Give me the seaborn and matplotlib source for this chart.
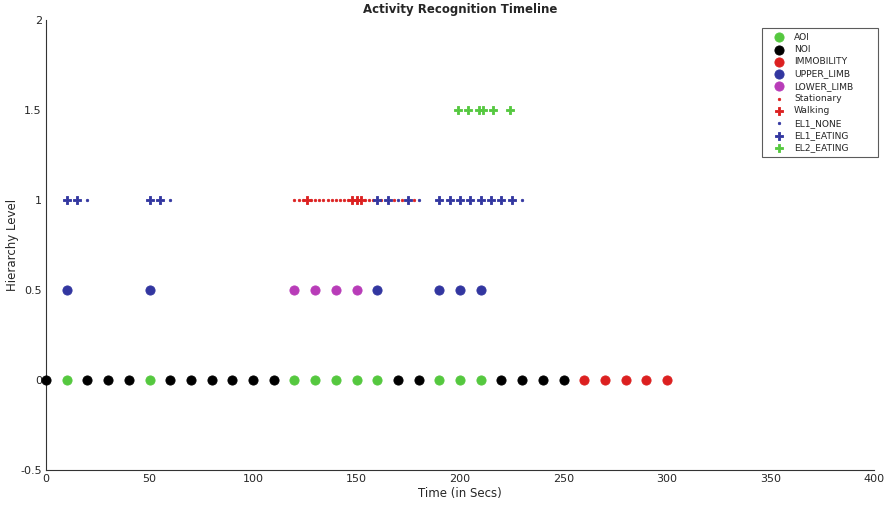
import matplotlib
matplotlib.use("Agg")
import matplotlib.pyplot as plt
import seaborn as sns
import pandas as pd

# === Data read from the reference timeline ===
# level 0: interest (AOI / NOI / IMMOBILITY)
aoi_t = [10, 50, 120, 130, 140, 150, 160, 190, 200, 210]
noi_t = [0, 20, 30, 40, 60, 70, 80, 90, 100, 110, 170, 180, 220, 230, 240, 250]
immob_t = [260, 270, 280, 290, 300]
# level 0.5: limb
upper_t = [10, 50, 160, 190, 200, 210]
lower_t = [120, 130, 140, 150]
# level 1: locomotion + EL1
stationary_t = [120, 122, 124, 128, 130, 132, 134, 136, 138, 140, 142, 144, 146,
                154, 156, 158, 162, 168, 172, 178]
walking_t = [126, 148, 150, 152]
el1_none_t = [20, 60, 170, 180, 230]
el1_eat_t = [10, 15, 50, 55, 160, 165, 175, 190, 195, 200, 205, 210, 215, 220, 225]
# level 1.5: EL2
el2_eat_t = [199, 204, 209, 211, 216, 224]

series = [
    ("AOI", aoi_t, 0.0, "o", 44, "#55c83f"),
    ("NOI", noi_t, 0.0, "o", 44, "black"),
    ("IMMOBILITY", immob_t, 0.0, "o", 44, "#dc2020"),
    ("UPPER_LIMB", upper_t, 0.5, "o", 44, "#3236a0"),
    ("LOWER_LIMB", lower_t, 0.5, "o", 44, "#b83cb8"),
    ("Stationary", stationary_t, 1.0, "o", 3, "#dc2020"),
    ("Walking", walking_t, 1.0, "P", 34, "#dc2020"),
    ("EL1_NONE", el1_none_t, 1.0, "o", 3, "#3236a0"),
    ("EL1_EATING", el1_eat_t, 1.0, "P", 34, "#3236a0"),
    ("EL2_EATING", el2_eat_t, 1.5, "P", 34, "#55c83f"),
]

sns.set_style("white")
plt.rcParams['font.family'] = ['DejaVu Sans']

fig = plt.figure(figsize=(8.85, 5.07), dpi=100)
ax = fig.add_axes([0.052, 0.073, 0.9356, 0.8876])

for name, times, level, marker, size, color in series:
    df = pd.DataFrame({"time": times, "level": [level] * len(times)})
    sns.scatterplot(data=df, x="time", y="level", marker=marker, s=size,
                    color=color, edgecolor=color, linewidth=0.6, label=name,
                    ax=ax, clip_on=False, zorder=3)

ax.set_xlim(0, 400)
ax.set_ylim(-0.5, 2)
ax.set_xticks(range(0, 401, 50))
ax.set_yticks([-0.5, 0, 0.5, 1, 1.5, 2])
ax.set_yticklabels(["-0.5", "0", "0.5", "1", "1.5", "2"])
ax.tick_params(direction="in", length=4, labelsize=8, color="#333333", pad=3)
for side in ["top", "right"]:
    ax.spines[side].set_visible(False)
for side in ["left", "bottom"]:
    ax.spines[side].set_color("#333333")
    ax.spines[side].set_linewidth(0.8)

ax.set_xlabel("Time (in Secs)", fontsize=8.5, labelpad=2)
ax.set_ylabel("Hierarchy Level", fontsize=8.5, labelpad=1)
ax.set_title("Activity Recognition Timeline", fontsize=8.5, fontweight="bold", pad=5)

leg = ax.legend(loc="upper left", bbox_to_anchor=(0.8647, 0, 0.140, 0.982),
                mode="expand", borderaxespad=0, fontsize=6.6, frameon=True,
                fancybox=False, edgecolor="#333333", markerscale=1.0,
                handletextpad=0.2, labelspacing=0.36, borderpad=0.5,
                handlelength=2.8)
leg.get_frame().set_linewidth(0.8)

fig.savefig("out.png", dpi=100)
